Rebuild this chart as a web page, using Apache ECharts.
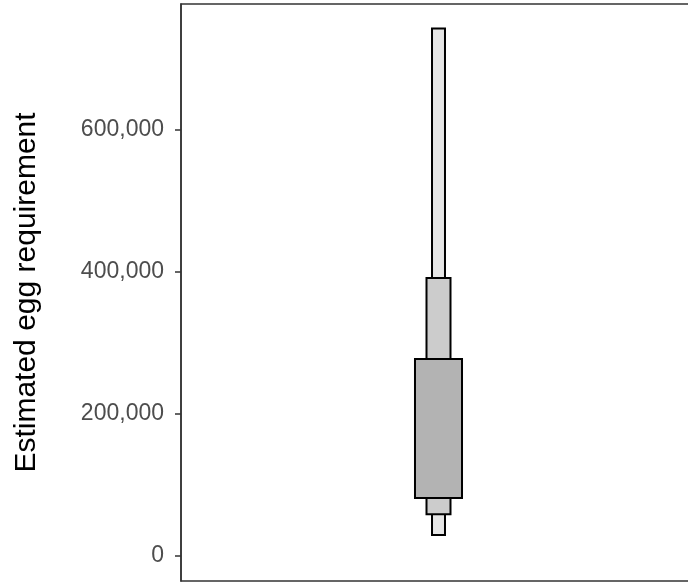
<!DOCTYPE html>
<html>
<head>
<meta charset="utf-8">
<script src="https://cdn.jsdelivr.net/npm/echarts@6/dist/echarts.min.js"></script>
<style>
  html, body { margin: 0; padding: 0; background: #fff; overflow: hidden; }
  #wrap { width: 688px; height: 583px; overflow: hidden; }
  /* the panel runs slightly past the right edge of the page */
  #chart { width: 696px; height: 583px; }
</style>
</head>
<body>
<div id="wrap"><div id="chart"></div></div>
<script>
// Letter-value boxes, from the outermost (tail) level to the median box
var levels = ['tail', 'fourths-outer', 'fourths'];
var lowerBounds = [29600, 59000, 82000];
var upperBounds = [743000, 391500, 277500];
var yTicks = [0, 200000, 400000, 600000];

// box widths as a fraction of the category band, and fills per level
var widthFrac = [0.0252, 0.0466, 0.0913];
var fills = ['#e5e5e5', '#cccccc', '#b3b3b3'];

var data = levels.map(function (name, i) {
  return [0, lowerBounds[i], upperBounds[i], i];
});

var chart = echarts.init(document.getElementById('chart'));
chart.setOption({
  animation: false,
  backgroundColor: '#ffffff',
  grid: {
    left: 181, top: 4, right: 0, bottom: 2,
    show: true, borderColor: '#333333', borderWidth: 1.5,
    backgroundColor: 'transparent'
  },
  xAxis: {
    type: 'category',
    data: ['eggs'],
    axisLine: { show: false },
    axisTick: { show: false },
    axisLabel: { show: false },
    splitLine: { show: false }
  },
  yAxis: {
    type: 'value',
    min: -35000,
    max: 777500,
    name: 'Estimated egg requirement',
    nameLocation: 'middle',
    nameGap: 139,
    nameTextStyle: { fontFamily: 'Liberation Sans', fontSize: 30, color: '#000000' },
    axisLine: { show: true, lineStyle: { color: '#333333', width: 1.5 } },
    axisTick: { show: true, length: 6, customValues: yTicks, lineStyle: { color: '#333333', width: 1.5 } },
    axisLabel: {
      customValues: yTicks,
      margin: 17,
      fontFamily: 'Liberation Sans', fontSize: 23, color: '#4d4d4d',
      formatter: function (v) { return v.toLocaleString('en-US'); }
    },
    splitLine: { show: false }
  },
  series: [{
    type: 'custom',
    data: data,
    renderItem: function (params, api) {
      var idx = api.value(3);
      var band = api.size([1, 0])[0];
      var half = band * widthFrac[idx] / 2;
      var top = api.coord([api.value(0), api.value(2)]);
      var bot = api.coord([api.value(0), api.value(1)]);
      return {
        type: 'rect',
        shape: { x: top[0] - half, y: top[1], width: half * 2, height: bot[1] - top[1] },
        style: { fill: fills[idx], stroke: '#000000', lineWidth: 2 }
      };
    }
  }]
});
</script>
</body>
</html>
